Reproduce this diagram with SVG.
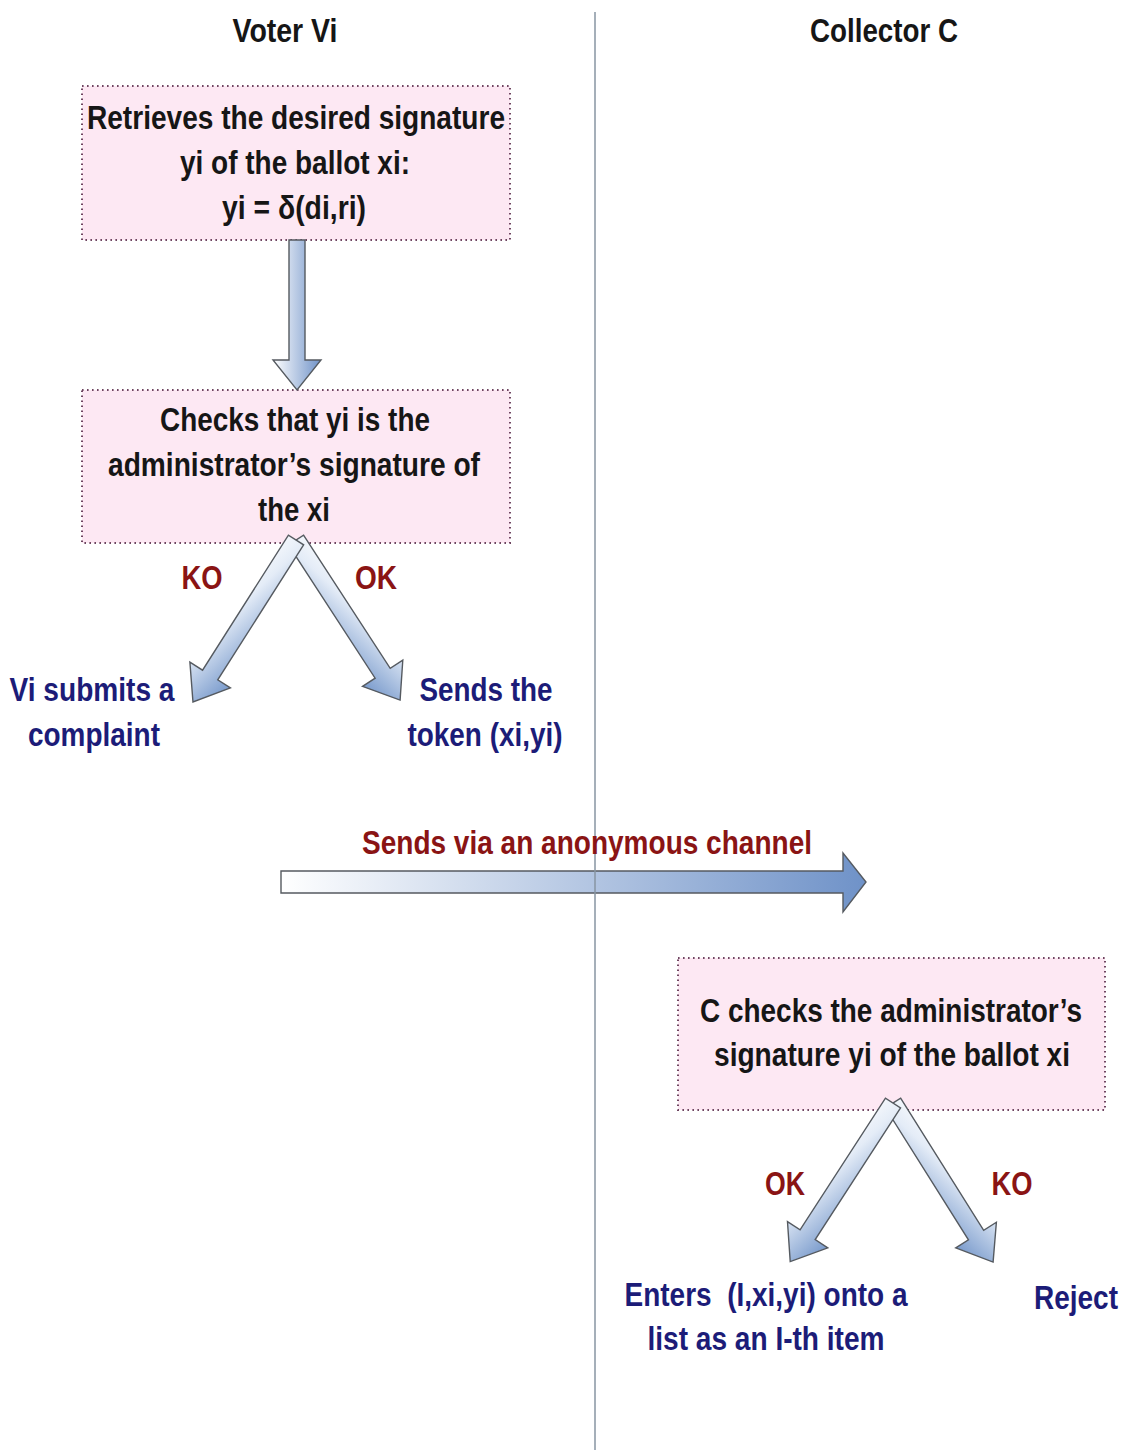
<svg xmlns="http://www.w3.org/2000/svg" width="1128" height="1450" viewBox="0 0 1128 1450">
<style>
.box{fill:#fde8f3;stroke:#6e4460;stroke-width:2;stroke-dasharray:1.6 3.4}
.t{font-family:"Liberation Sans",Arial,sans-serif;font-size:33px;font-weight:bold;text-anchor:middle}
.nt{fill:#161616}
.out{fill:#1c1c78}
.lbl{fill:#8a1414}
.arr{stroke:#555a60;stroke-width:1.4;stroke-linejoin:miter}
</style>
<defs>
<linearGradient id="gH" x1="0" y1="0" x2="1" y2="0">
<stop offset="0" stop-color="#ffffff"/>
<stop offset="1" stop-color="#6f92c8"/>
</linearGradient>
<linearGradient id="gB" x1="0" y1="1" x2="1" y2="0">
<stop offset="0" stop-color="#ffffff"/>
<stop offset="0.35" stop-color="#e4ecf7"/>
<stop offset="1" stop-color="#6a8fc6"/>
</linearGradient>
<linearGradient id="gB2" x1="0" y1="0" x2="1" y2="1">
<stop offset="0" stop-color="#ffffff"/>
<stop offset="0.35" stop-color="#e4ecf7"/>
<stop offset="1" stop-color="#6a8fc6"/>
</linearGradient>
</defs>

<g id="headers">
<text class="t nt" x="285" y="42" textLength="105" lengthAdjust="spacingAndGlyphs">Voter Vi</text>
<text class="t nt" x="884" y="42" textLength="148" lengthAdjust="spacingAndGlyphs">Collector C</text>
</g>

<g id="node-retrieve">
<rect class="box" x="82" y="86" width="428" height="154"/>
<text class="t nt" x="296" y="129" textLength="418" lengthAdjust="spacingAndGlyphs">Retrieves the desired signature</text>
<text class="t nt" x="295" y="174" textLength="230" lengthAdjust="spacingAndGlyphs">yi of the ballot xi:</text>
<text class="t nt" x="294" y="219" textLength="144" lengthAdjust="spacingAndGlyphs">yi = δ(di,ri)</text>
</g>

<g id="node-checks">
<rect class="box" x="82" y="390" width="428" height="153"/>
<text class="t nt" x="295" y="431" textLength="270" lengthAdjust="spacingAndGlyphs">Checks that yi is the</text>
<text class="t nt" x="294" y="476" textLength="372" lengthAdjust="spacingAndGlyphs">administrator’s signature of</text>
<text class="t nt" x="294" y="521" textLength="72" lengthAdjust="spacingAndGlyphs">the xi</text>
</g>

<g id="node-ccheck">
<rect class="box" x="678" y="958" width="427" height="152"/>
<text class="t nt" x="891" y="1022" textLength="382" lengthAdjust="spacingAndGlyphs">C checks the administrator’s</text>
<text class="t nt" x="892" y="1066" textLength="356" lengthAdjust="spacingAndGlyphs">signature yi of the ballot xi</text>
</g>

<g id="connectors">
<path class="arr" fill="url(#gH)" d="M289,240 L305,240 L305,360 L321,360 L297,390 L273,360 L289,360 Z"/>
<path class="arr" fill="url(#gB2)" transform="translate(296,540) rotate(56.97)" d="M0,-9 L159,-9 L159,-24 L191,0 L159,24 L159,9 L0,9 Z"/>
<path class="arr" fill="url(#gB)" transform="translate(296,540) rotate(122.45)" d="M0,-9 L160,-9 L160,-24 L192,0 L160,24 L160,9 L0,9 Z"/>
<path class="arr" fill="url(#gH)" d="M281,871 L843,871 L843,853 L866,882 L843,912 L843,893 L281,893 Z"/>
<path class="arr" fill="url(#gB2)" transform="translate(893,1103) rotate(57.83)" d="M0,-9 L156,-9 L156,-24 L188,0 L156,24 L156,9 L0,9 Z"/>
<path class="arr" fill="url(#gB)" transform="translate(893,1103) rotate(122.94)" d="M0,-9 L157,-9 L157,-24 L189,0 L157,24 L157,9 L0,9 Z"/>
</g>

<line id="divider" x1="595" y1="12" x2="595" y2="1450" stroke="#8794a2" stroke-width="1.5"/>

<g id="labels">
<text class="t lbl" x="202" y="589" textLength="41" lengthAdjust="spacingAndGlyphs">KO</text>
<text class="t lbl" x="376" y="589" textLength="42" lengthAdjust="spacingAndGlyphs">OK</text>
<text class="t lbl" x="587" y="854" textLength="450" lengthAdjust="spacingAndGlyphs">Sends via an anonymous channel</text>
<text class="t lbl" x="785" y="1195" textLength="40" lengthAdjust="spacingAndGlyphs">OK</text>
<text class="t lbl" x="1012" y="1195" textLength="41" lengthAdjust="spacingAndGlyphs">KO</text>
</g>

<g id="node-complaint">
<text class="t out" x="92" y="701" textLength="165" lengthAdjust="spacingAndGlyphs">Vi submits a</text>
<text class="t out" x="94" y="746" textLength="132" lengthAdjust="spacingAndGlyphs">complaint</text>
</g>

<g id="node-token">
<text class="t out" x="486" y="701" textLength="133" lengthAdjust="spacingAndGlyphs">Sends the</text>
<text class="t out" x="485" y="746" textLength="155" lengthAdjust="spacingAndGlyphs">token (xi,yi)</text>
</g>

<g id="node-enter">
<text class="t out" x="766" y="1306" textLength="283" lengthAdjust="spacingAndGlyphs" xml:space="preserve">Enters  (I,xi,yi) onto a</text>
<text class="t out" x="766" y="1350" textLength="237" lengthAdjust="spacingAndGlyphs">list as an I-th item</text>
</g>

<g id="node-reject">
<text class="t out" x="1076" y="1309" textLength="84" lengthAdjust="spacingAndGlyphs">Reject</text>
</g>
</svg>
